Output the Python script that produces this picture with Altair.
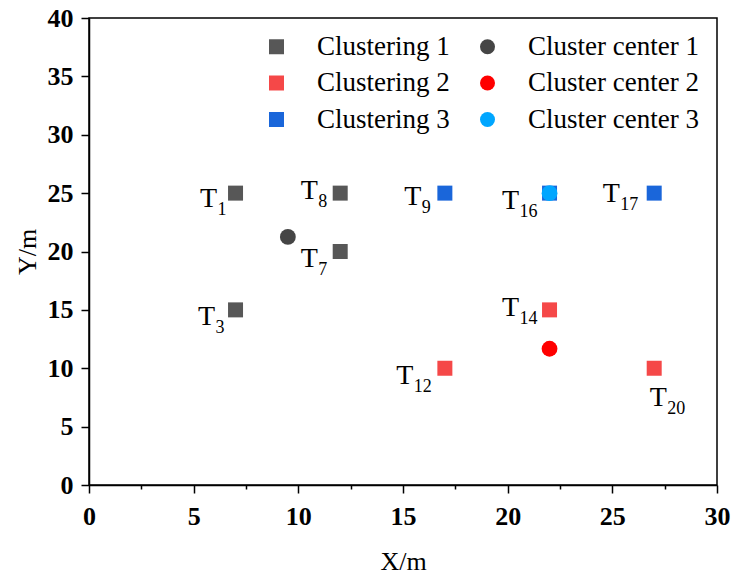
import altair as alt
import pandas as pd

# ---- data ----
sub_labels = ["1", "3", "7", "8", "12", "14", "20", "9", "16", "17"]
pt_x = [7, 7, 12, 12, 17, 22, 27, 17, 22, 27]
pt_y = [25, 15, 20, 25, 10, 15, 10, 25, 25, 25]
pt_group = [1, 1, 1, 1, 2, 2, 2, 3, 3, 3]
# label offsets of the "T" relative to its point (pixels)
lab_dx = [-27, -29, -31, -31, -40, -39, 4, -32, -39, -43]
lab_dy = [6, 7, 7, -2, 8, -2, 30, 4, 8, 1]

center_x = [9.5, 22, 22]
center_y = [21.25, 11.67, 25]

series_order = ["Clustering 1", "Clustering 2", "Clustering 3",
                "Cluster center 1", "Cluster center 2", "Cluster center 3"]
series_colors = ["#575757", "#F54848", "#1A66DA", "#454545", "#FF0000", "#00A6FF"]
series_shapes = ["square", "square", "square", "circle", "circle", "circle"]

W, H = 628, 467
XMAX, YMAX = 30, 40
px_x = W / XMAX
px_y = H / YMAX

pts = pd.DataFrame({"x": pt_x, "y": pt_y,
                    "series": [f"Clustering {g}" for g in pt_group]})
ctr = pd.DataFrame({"x": center_x, "y": center_y,
                    "series": [f"Cluster center {i}" for i in range(1, 4)]})
labs = pd.DataFrame({
    "lx": [x + dx / px_x for x, dx in zip(pt_x, lab_dx)],
    "ly": [y - dy / px_y for y, dy in zip(pt_y, lab_dy)],
    "sub": sub_labels,
})

font = "Liberation Serif"
ticks = [i * 2.5 for i in range(13)]
yticks = [i * 2.5 for i in range(17)]

def axis(title, vals, pad):
    return alt.Axis(title=title, values=vals, grid=False,
                    labelExpr="datum.value % 5 === 0 ? datum.label : ''",
                    labelOverlap=False, labelFlush=False,
                    tickSize={"condition": {"test": "datum.value % 5 === 0", "value": 8}, "value": 4},
                    labelPadding=pad)

xenc = alt.X("x:Q", scale=alt.Scale(domain=[0, XMAX], nice=False),
             axis=axis("X/m", ticks, 10))
yenc = alt.Y("y:Q", scale=alt.Scale(domain=[0, YMAX], nice=False),
             axis=axis("Y/m", yticks, 8))

legend = alt.Legend(title=None, orient="none", legendX=174, legendY=15,
                    columns=2, gridAlign="each", symbolSize=225, symbolStrokeWidth=0,
                    labelFont=font, labelFontSize=27, labelOffset=27,
                    labelLimit=0, columnPadding=24, rowPadding=8.5,
                    padding=0, symbolOpacity=1, direction="vertical")
color = alt.Color("series:N", scale=alt.Scale(domain=series_order, range=series_colors),
                  legend=legend, sort=series_order)
shape = alt.Shape("series:N", scale=alt.Scale(domain=series_order, range=series_shapes),
                  legend=legend, sort=series_order)

squares = alt.Chart(pts).mark_point(filled=True, opacity=1, size=225).encode(
    x=xenc, y=yenc, color=color, shape=shape)
circles = alt.Chart(ctr).mark_point(filled=True, opacity=1, size=250).encode(
    x=xenc, y=yenc, color=color, shape=shape)

t_text = alt.Chart(labs).mark_text(font=font, fontSize=28, align="center",
                                   baseline="middle", color="black").encode(
    x=alt.X("lx:Q"), y=alt.Y("ly:Q"), text=alt.value("T"))
s_text = alt.Chart(labs).mark_text(font=font, fontSize=18, align="left",
                                   baseline="middle", color="black", dx=9, dy=11).encode(
    x=alt.X("lx:Q"), y=alt.Y("ly:Q"), text="sub:N")

chart = alt.layer(squares, circles, t_text, s_text).properties(
    width=W, height=H,
    autosize=alt.AutoSizeParams(type="none"),
    padding={"left": 89, "top": 18, "right": 732 - 89 - W, "bottom": 576 - 18 - H},
).configure_view(stroke="black", strokeWidth=1.5).configure_axis(
    labelFont=font, labelFontSize=26, labelFontWeight="bold", labelColor="black",
    titleFont=font, titleFontSize=26, titleFontWeight="normal", titleColor="black",
    domainColor="black", domainWidth=1.5, tickColor="black", tickWidth=1.5,
).configure_axisX(titlePadding=19).configure_axisY(titlePadding=7)

chart.save("out.html", embed_options={"renderer": "svg", "actions": False})
